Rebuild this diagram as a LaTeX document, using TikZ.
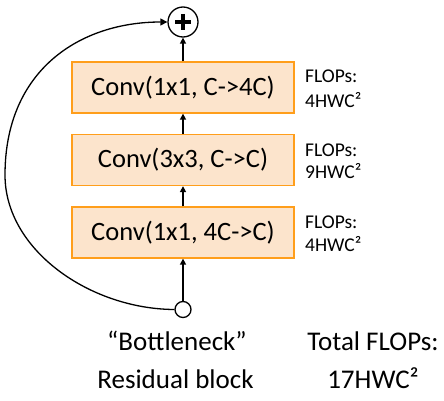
\documentclass[tikz,border=0pt]{standalone}
\usepackage{fontspec}
\setmainfont{Carlito}
\usetikzlibrary{arrows.meta,calc}
\definecolor{boxfill}{HTML}{FCE4CC}
\definecolor{boxline}{HTML}{FF9E1B}
\tikzset{
  convbox/.style={draw=boxline, fill=boxfill, line width=1.3pt, minimum width=222pt, minimum height=51pt, inner sep=0pt, font=\fontsize{26.5}{30}\selectfont},
  flop/.style={anchor=base west, inner sep=0pt, font=\fontsize{19.5}{22}\selectfont},
  captext/.style={anchor=base, inner sep=0pt, font=\fontsize{27}{32}\selectfont},
  flow/.style={line width=1.7pt, -{Triangle[length=6pt,width=6pt]}},
  skip/.style={line width=1.3pt, -{Triangle[length=7pt,width=7pt]}}
}
\begin{document}
\begin{tikzpicture}[x=1pt,y=-1pt]
\useasboundingbox (0,0) rectangle (444,401);
\node[convbox] (c1) at (183,87.5) {Conv(1x1, C->4C)};
\node[convbox] (c2) at (183,160) {Conv(3x3, C->C)};
\node[convbox] (c3) at (183,232.5) {Conv(1x1, 4C->C)};
\node[draw, circle, line width=1.3pt, minimum size=30pt, inner sep=0pt, fill=white] (plus) at (183,22) {};
\draw[line width=3.2pt] ($(plus.center)+(-8,0)$) -- ($(plus.center)+(8,0)$);
\draw[line width=3.2pt] ($(plus.center)+(0,-8)$) -- ($(plus.center)+(0,8)$);
\node[draw, circle, line width=1.3pt, minimum size=16pt, inner sep=0pt, fill=white] (in) at (183,309.5) {};
\draw[flow] (in) -- (c3);
\draw[flow] (c3) -- (c2);
\draw[flow] (c2) -- (c1);
\draw[flow] (c1) -- (plus);
\draw[skip] (in.west) .. controls (90,309) and (5,250) .. (5,175) .. controls (5,70) and (80,22) .. (plus.west);
\node[flop] (f1a) at (305,83) {FLOPs:};
\node[flop] (f1b) at (305,107) {4HWC²};
\node[flop] (f2a) at (305,157) {FLOPs:};
\node[flop] (f2b) at (305,178) {9HWC²};
\node[flop] (f3a) at (305,228) {FLOPs:};
\node[flop] (f3b) at (305,251) {4HWC²};
\node[captext] (t1) at (177,350) {“Bottleneck”};
\node[captext] (t2) at (175.5,388) {Residual block};
\node[captext] (t3) at (373,350) {Total FLOPs:};
\node[captext] (t4) at (373,388) {17HWC²};
\end{tikzpicture}
\end{document}
